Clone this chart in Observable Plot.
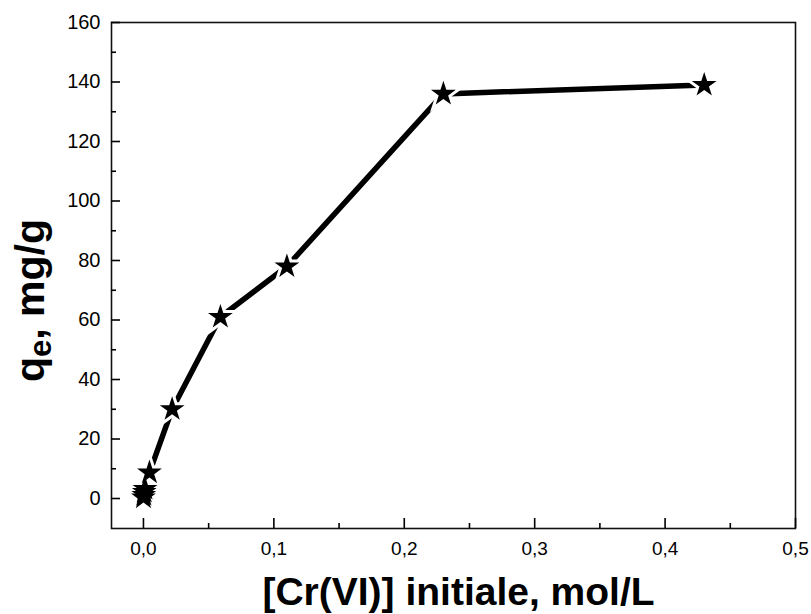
<!DOCTYPE html>
<html><head><meta charset="utf-8">
<script src="https://cdn.jsdelivr.net/npm/d3@7"></script>
<script src="https://cdn.jsdelivr.net/npm/@observablehq/plot@0.6"></script>
<style>
body{margin:0;background:#fff}
#chart svg{font-family:"Liberation Sans",Arial,sans-serif;overflow:visible}
</style>
</head><body><div id="chart"></div>
<script>
const concentration = [0, 0.0003, 0.0006, 0.0012, 0.0046, 0.022, 0.059, 0.11, 0.23, 0.43];
const qe = [0.3, 1.2, 2.2, 3.2, 8.7, 30, 61, 78, 136, 139];
const xMajor = [0, 0.1, 0.2, 0.3, 0.4, 0.5];
const xMinor = [0.05, 0.15, 0.25, 0.35, 0.45];
const yMajor = [0, 20, 40, 60, 80, 100, 120, 140, 160];
const yMinor = [10, 30, 50, 70, 90, 110, 130, 150];
const xTitle = "[Cr(VI)] initiale, mol/L";
const yTitleParts = ["q", "e", ", mg/g"];
const yTitle = yTitleParts.join("");

const points = concentration.map((c, i) => ({c, q: qe[i]}));
const fmt = d => d.toFixed(1).replace(".", ",");

const svg = Plot.plot({
  width: 811,
  height: 614,
  marginLeft: 111,
  marginRight: 16,
  marginTop: 22,
  marginBottom: 86,
  style: {fontFamily: '"Liberation Sans", Arial, sans-serif', background: "#fff"},
  x: {domain: [-0.0245, 0.5]},
  y: {domain: [-10.08, 160]},
  marks: [
    Plot.frame({stroke: "#111", strokeWidth: 1.6}),
    Plot.axisX(xMajor, {tickSize: -10, text: null, label: null, strokeWidth: 1.6}),
    Plot.axisX(xMinor, {tickSize: -5, text: null, label: null, strokeWidth: 1.6}),
    Plot.axisX(xMajor, {tickSize: 0, tickPadding: 13, tickFormat: fmt, fontSize: 19, label: null}),
    Plot.axisY(yMajor, {tickSize: -9, text: null, label: null, strokeWidth: 1.6}),
    Plot.axisY(yMinor, {tickSize: -5, text: null, label: null, strokeWidth: 1.6}),
    Plot.axisY(yMajor, {tickSize: 0, tickPadding: 11, fontSize: 20, label: null}),
    Plot.line(points, {x: "c", y: "q", stroke: "black", strokeWidth: 5.5, strokeLinecap: "round", strokeLinejoin: "round"}),
    Plot.dot(points, {x: "c", y: "q", symbol: "star", r: 7.8, fill: "white", stroke: "white", strokeWidth: 6}),
    Plot.dot(points, {x: "c", y: "q", symbol: "star", r: 7.8, fill: "black", stroke: "none"}),
    Plot.text([xTitle], {frameAnchor: "bottom", text: d => d, dx: 5, dy: 76, lineAnchor: "bottom", textAnchor: "middle", fontSize: 39, fontWeight: "bold", fill: "black"}),
    Plot.text([yTitle], {frameAnchor: "left", text: d => d, rotate: -90, dx: -68, dy: 25, lineAnchor: "bottom", textAnchor: "middle", fontSize: 41, fontWeight: "bold", fill: "black"})
  ]
});

d3.select(svg).selectAll("text").filter(function() { return this.textContent === yTitle; }).each(function() {
  const t = d3.select(this);
  t.text(null);
  t.append("tspan").text(yTitleParts[0]);
  t.append("tspan").attr("font-size", "31").attr("dy", "7").text(yTitleParts[1]);
  t.append("tspan").attr("dy", "-7").text(yTitleParts[2]);
});

document.getElementById("chart").appendChild(svg);
</script>
</body></html>
